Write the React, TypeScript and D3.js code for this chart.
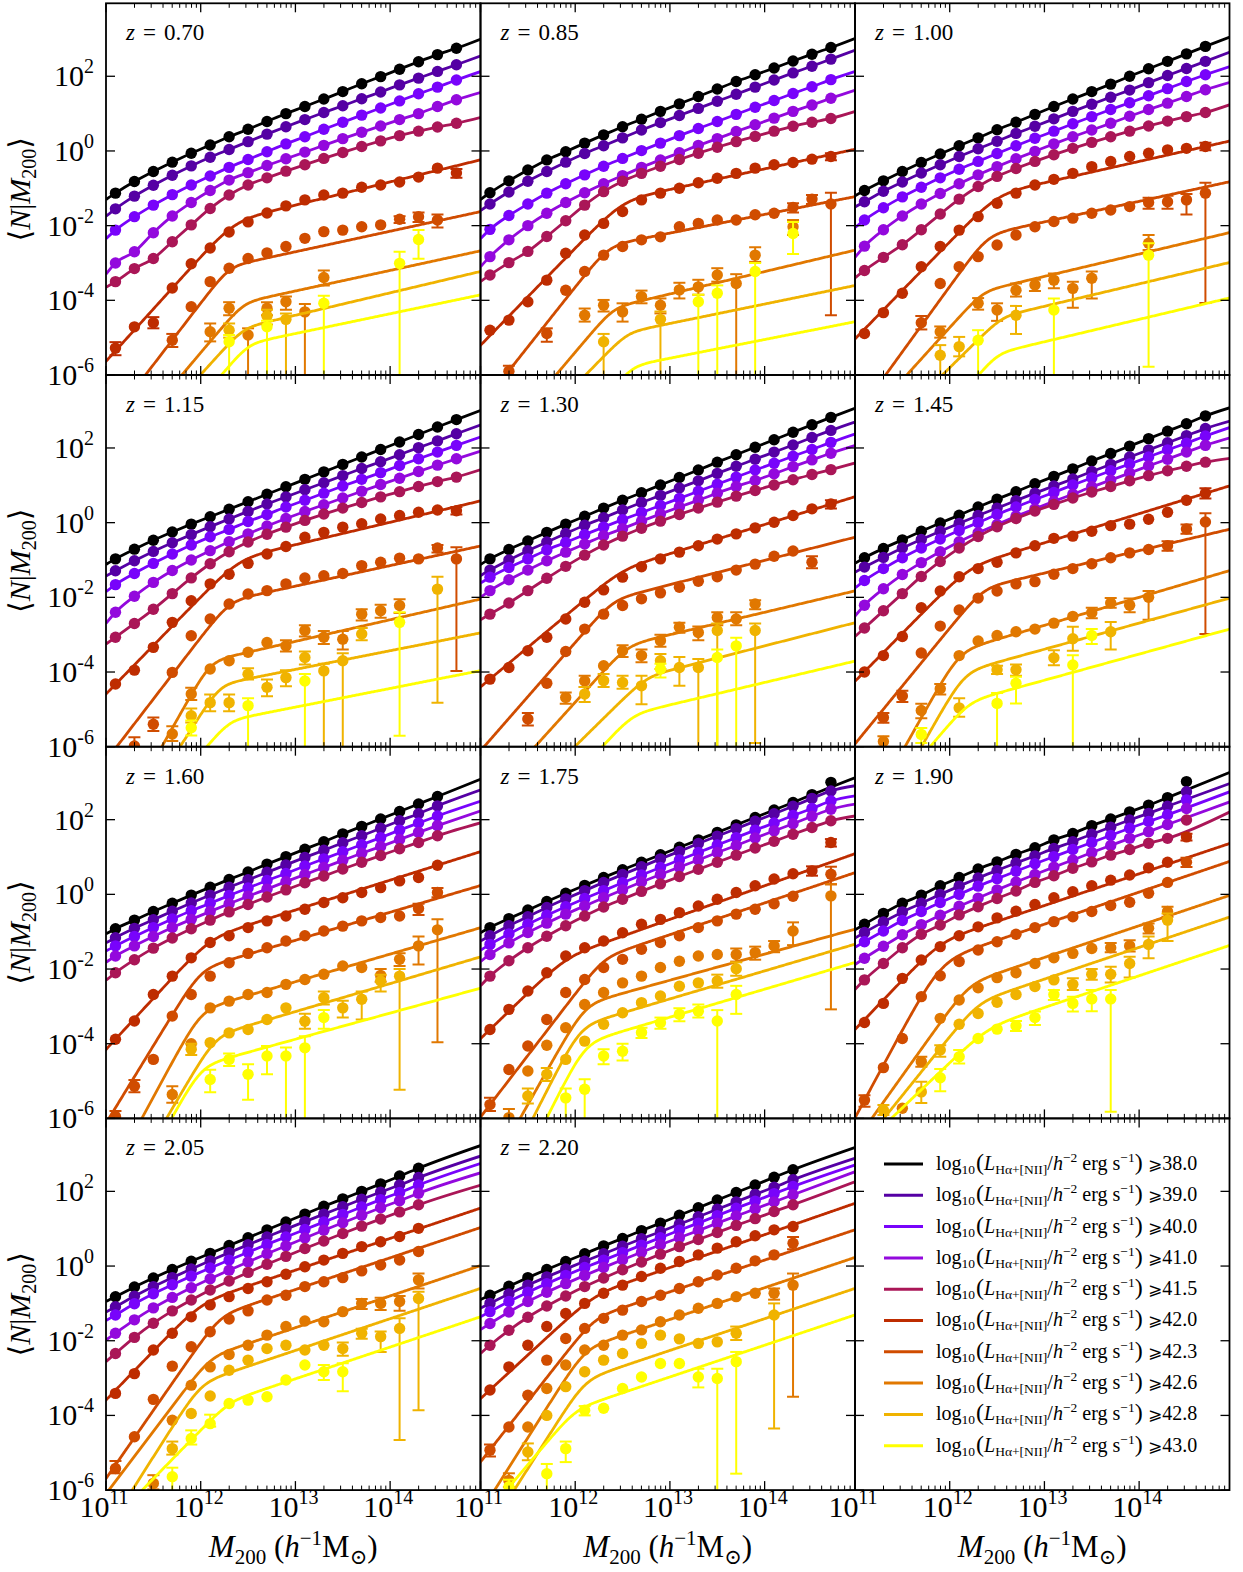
import * as d3 from "d3";

const REDSHIFTS = ["0.70", "0.85", "1.00", "1.15", "1.30", "1.45", "1.60", "1.75", "1.90", "2.05", "2.20"];
const THRESHOLDS = ["38.0", "39.0", "40.0", "41.0", "41.5", "42.0", "42.3", "42.6", "42.8", "43.0"];
// gnuplot colour map sampled at i/9
const COLORS = ["#000000", "#5500a4", "#7803fb", "#9309dd", "#aa1657", "#be2c00", "#d04c00", "#e17800", "#f0b300", "#ffff00"];

// log10 M200 bin centres (h^-1 Msun)
const LOG_M_BINS = [11.1, 11.3, 11.5, 11.7, 11.9, 12.1, 12.3, 12.5, 12.7, 12.9, 13.1, 13.3, 13.5, 13.7, 13.9, 14.1, 14.3, 14.5, 14.7];
// where the curves of the bright samples leave the frame
const LOG_M_EDGES = [11.0, 14.96];
const X_TICK_EXP = [11, 12, 13, 14];
const Y_TICK_EXP = [-6, -4, -2, 0, 2];

// ---- z = 0.70 ----
const Z070_BRIGHT = [
  [-1.13, -0.82, -0.55, -0.3, -0.06, 0.16, 0.38, 0.58, 0.79, 1.0, 1.19, 1.39, 1.59, 1.8, 1.99, 2.19, 2.39, 2.58, 2.75],
  [-1.55, -1.21, -0.92, -0.65, -0.4, -0.17, 0.04, 0.25, 0.45, 0.65, 0.84, 1.03, 1.21, 1.4, 1.58, 1.77, 1.95, 2.13, 2.31],
  [-2.12, -1.76, -1.45, -1.17, -0.91, -0.67, -0.44, -0.23, -0.02, 0.19, 0.38, 0.58, 0.77, 0.96, 1.15, 1.34, 1.53, 1.71, 1.9],
  [-3.0, -2.7, -2.19, -1.74, -1.38, -1.06, -0.78, -0.58, -0.39, -0.21, -0.03, 0.15, 0.33, 0.5, 0.67, 0.84, 1.0, 1.19, 1.37],
  [-3.5, -3.15, -2.88, -2.43, -1.98, -1.54, -1.18, -0.91, -0.72, -0.54, -0.37, -0.2, -0.04, 0.12, 0.27, 0.41, 0.53, 0.64, 0.74],
];
const Z070_EDGES = [[-1.3, 3.0], [-1.75, 2.55], [-2.35, 2.13], [-3.3, 1.57], [-3.65, 0.9]];
const Z070_FAINT = [
  [-5.28, -4.71, -4.6, -3.67, -3.02, -2.6, -2.17, -1.9, -1.66, -1.47, -1.31, -1.18, -1.13, -0.97, -0.91, -0.83, -0.7, -0.46, -0.59],
  [null, null, null, -5.07, -4.17, -3.5, -3.14, -2.88, -2.73, -2.56, -2.34, -2.16, -2.12, -2.03, -1.98, -1.83, -1.76, -1.85, null],
  [null, null, null, null, null, -4.84, -4.21, -4.93, -4.21, -4.04, -4.31, -3.39],
  [null, null, null, null, null, null, -4.8, null, -4.42, -4.51],
  [null, null, null, null, null, null, -5.11, null, -4.71, null, null, -4.08, null, null, null, -3.01, -2.37],
];
const Z070_FITS = [[-0.83, 0.62, 12.35, 2.8, 0.25], [-2.15, 0.55, 12.3, 3.3, 0.15], [-3.2, 0.55, 12.45, 3.0, 0.15], [-3.8, 0.6, 12.45, 2.8, 0.15], [-4.36, 0.53, 12.5, 3.0, 0.15]];
const Z070_ERRS = [
  [5, 0, -5.47, -5.12], [5, 2, -4.75, -4.45], [5, 18, -0.72, -0.48],
  [6, 3, -5.25, -4.9], [6, 15, -1.93, -1.75], [6, 16, -1.9, -1.65], [6, 17, -2.05, -1.7],
  [7, 5, -5.1, -4.62], [7, 6, -4.4, -4.05], [7, 7, -7, -4.75], [7, 8, -4.4, -4.05], [7, 9, -4.25, -3.9], [7, 10, -7, -4.1], [7, 11, -3.6, -3.2],
  [8, 6, -5.0, -4.62], [8, 8, -4.65, -4.25], [8, 9, -7, -4.35],
  [9, 6, -7, -4.93], [9, 8, -7, -4.55], [9, 11, -7, -3.88], [9, 15, -7, -2.7], [9, 16, -2.89, -2.12],
];

// ---- z = 0.85 ----
const Z085_BRIGHT = [
  [-1.12, -0.8, -0.51, -0.24, -0.02, 0.21, 0.43, 0.65, 0.85, 1.06, 1.26, 1.46, 1.66, 1.86, 2.04, 2.22, 2.41, 2.59, 2.77],
  [-1.42, -1.1, -0.81, -0.55, -0.3, -0.07, 0.14, 0.35, 0.56, 0.76, 0.95, 1.14, 1.33, 1.52, 1.71, 1.9, 2.09, 2.27, 2.46],
  [-2.1, -1.73, -1.42, -1.13, -0.88, -0.64, -0.41, -0.2, 0.01, 0.21, 0.41, 0.6, 0.79, 0.98, 1.17, 1.35, 1.54, 1.72, 1.91],
  [-2.83, -2.38, -2.0, -1.67, -1.38, -1.12, -0.88, -0.66, -0.44, -0.24, -0.05, 0.15, 0.33, 0.52, 0.7, 0.88, 1.06, 1.23, 1.41],
  [-3.32, -2.99, -2.69, -2.29, -1.87, -1.45, -1.09, -0.81, -0.6, -0.41, -0.23, -0.06, 0.1, 0.25, 0.39, 0.53, 0.66, 0.77, 0.87],
];
const Z085_EDGES = [[-1.3, 3.02], [-1.6, 2.7], [-2.35, 2.13], [-3.1, 1.63], [-3.5, 1.06]];
const Z085_FAINT = [
  [-4.8, -4.53, -4.04, -3.46, -2.74, -2.25, -1.94, -1.62, -1.31, -1.13, -1.0, -0.85, -0.73, -0.6, -0.46, -0.37, -0.31, -0.22, -0.15],
  [null, -5.9, null, -4.89, -3.73, -3.23, -2.79, -2.56, -2.38, -2.3, -2.03, -1.94, -1.85, -1.85, -1.71, -1.67, -1.51, -1.29, -1.42],
  [null, null, null, null, null, -4.4, -4.13, -4.31, -3.9, -4.13, -3.72, -3.64, -3.32, -3.55, -2.79, null, -2.03],
  [null, null, null, null, null, null, -5.11, null, null, -4.51],
  [null, null, null, null, null, null, null, null, null, null, null, -4.04, -3.81, null, -3.23, null, -2.21],
];
const Z085_FITS = [[-0.48, 0.55, 12.5, 2.6, 0.25], [-1.7, 0.5, 12.35, 3.2, 0.18], [-3.23, 0.6, 12.4, 3.0, 0.15], [-4.1, 0.52, 12.55, 2.6, 0.15], [-5.05, 0.5, 12.6, 3.0, 0.15]];
const Z085_ERRS = [
  [5, 18, -0.25, -0.06],
  [6, 1, -6.1, -5.75], [6, 3, -5.11, -4.75], [6, 16, -1.65, -1.4], [6, 17, -1.42, -1.18], [6, 18, -4.4, -1.12],
  [7, 5, -4.57, -4.22], [7, 6, -4.3, -3.99], [7, 7, -4.57, -4.08], [7, 8, -4.08, -3.74], [7, 9, -4.35, -3.95], [7, 10, -3.95, -3.53], [7, 11, -3.85, -3.45], [7, 12, -3.5, -3.14], [7, 13, -7, -3.3], [7, 14, -2.97, -2.58], [7, 16, -2.25, -1.85],
  [8, 6, -7, -4.9], [8, 9, -7, -4.3],
  [9, 11, -7, -3.85], [9, 12, -7, -3.6], [9, 14, -7, -3.0], [9, 16, -2.76, -1.9],
];

// ---- z = 1.00 ----
const Z100_BRIGHT = [
  [-1.06, -0.8, -0.55, -0.31, -0.08, 0.14, 0.35, 0.57, 0.77, 0.98, 1.19, 1.39, 1.59, 1.79, 2.0, 2.2, 2.4, 2.6, 2.8],
  [-1.36, -1.08, -0.83, -0.59, -0.37, -0.15, 0.06, 0.26, 0.47, 0.66, 0.86, 1.06, 1.25, 1.44, 1.63, 1.83, 2.02, 2.21, 2.4],
  [-1.85, -1.52, -1.23, -0.97, -0.72, -0.49, -0.28, -0.07, 0.14, 0.34, 0.53, 0.73, 0.92, 1.11, 1.29, 1.48, 1.67, 1.86, 2.04],
  [-2.55, -2.11, -1.74, -1.42, -1.14, -0.88, -0.64, -0.42, -0.21, -0.01, 0.19, 0.38, 0.56, 0.74, 0.93, 1.11, 1.28, 1.46, 1.64],
  [-3.2, -2.85, -2.51, -2.11, -1.69, -1.29, -0.95, -0.68, -0.47, -0.28, -0.1, 0.07, 0.23, 0.38, 0.53, 0.67, 0.8, 0.92, 1.03],
];
const Z100_EDGES = [[-1.2, 3.05], [-1.5, 2.65], [-2.05, 2.26], [-2.85, 1.84], [-3.4, 1.24]];
const Z100_FAINT = [
  [-4.89, -4.33, -3.81, -3.1, -2.56, -2.12, -1.76, -1.4, -1.13, -0.91, -0.76, -0.6, -0.42, -0.28, -0.15, -0.06, 0.03, 0.07, 0.12],
  [null, null, null, -4.6, -3.55, -3.1, -2.83, -2.52, -2.25, -2.03, -1.89, -1.8, -1.67, -1.58, -1.49, -1.38, -1.36, -1.31, -1.13],
  [null, null, null, null, -4.84, null, -4.08, -4.26, -3.73, -3.59, -3.46, -3.68, -3.41, null, null, -2.47],
  [null, null, null, null, -5.47, -5.24, null, null, -4.4],
  [null, null, null, null, null, null, -5.07, null, null, null, -4.26, null, null, null, null, -2.79],
];
const Z100_FITS = [[-0.28, 0.57, 12.5, 2.6, 0.25], [-1.35, 0.55, 12.4, 3.5, 0.18], [-2.76, 0.6, 12.35, 2.8, 0.15], [-3.56, 0.6, 12.55, 2.5, 0.15], [-4.51, 0.6, 12.5, 3.0, 0.15]];
const Z100_ERRS = [
  [5, 18, 0.02, 0.22],
  [6, 3, -4.78, -4.42], [6, 15, -1.55, -1.25], [6, 16, -1.55, -1.2], [6, 17, -1.7, -1.15], [6, 18, -4.07, -0.85],
  [7, 4, -5.0, -4.7], [7, 6, -4.25, -3.94], [7, 7, -4.55, -4.08], [7, 8, -3.9, -3.55], [7, 9, -3.75, -3.45], [7, 10, -3.68, -3.28], [7, 11, -4.2, -3.5], [7, 12, -3.95, -3.23], [7, 15, -2.65, -2.25],
  [8, 4, -7, -5.2], [8, 5, -5.5, -4.98], [8, 8, -4.9, -4.15],
  [9, 6, -7, -4.8], [9, 10, -7, -3.95], [9, 15, -5.78, -2.47],
];

// ---- z = 1.15 ----
const Z115_BRIGHT = [
  [-0.97, -0.71, -0.47, -0.25, -0.04, 0.16, 0.36, 0.56, 0.76, 0.96, 1.16, 1.36, 1.56, 1.76, 1.96, 2.16, 2.36, 2.56, 2.76],
  [-1.29, -1.02, -0.77, -0.54, -0.32, -0.11, 0.1, 0.3, 0.5, 0.69, 0.88, 1.07, 1.26, 1.45, 1.63, 1.82, 2.01, 2.19, 2.38],
  [-1.66, -1.36, -1.09, -0.84, -0.6, -0.38, -0.18, 0.03, 0.22, 0.42, 0.6, 0.79, 0.98, 1.16, 1.34, 1.53, 1.71, 1.89, 2.07],
  [-2.4, -1.97, -1.6, -1.28, -1.0, -0.75, -0.51, -0.3, -0.09, 0.11, 0.3, 0.48, 0.66, 0.84, 1.02, 1.19, 1.37, 1.54, 1.71],
  [-3.07, -2.7, -2.32, -1.9, -1.48, -1.1, -0.78, -0.52, -0.31, -0.12, 0.06, 0.23, 0.39, 0.54, 0.69, 0.83, 0.97, 1.1, 1.22],
];
const Z115_EDGES = [[-1.12, 3.01], [-1.43, 2.62], [-1.85, 2.3], [-2.7, 1.92], [-3.25, 1.42]];
const Z115_FAINT = [
  [-4.32, -3.95, -3.34, -2.67, -2.09, -1.64, -1.38, -1.09, -0.84, -0.64, -0.39, -0.26, -0.12, -0.03, 0.1, 0.19, 0.28, 0.34, 0.32],
  [null, -5.98, -5.4, -4.01, -3.03, -2.58, -2.18, -1.91, -1.82, -1.64, -1.48, -1.42, -1.36, -1.15, -1.06, -0.95, -0.97, -0.68, -0.97],
  [null, null, null, -5.66, -4.59, -3.92, -3.7, -3.47, -3.21, -3.3, -2.89, -3.07, -3.12, -2.45, -2.36, -2.22],
  [null, null, null, null, -5.17, -4.82, -4.82, -4.06, -4.41, -4.15, -3.61, -3.97, -3.7, -2.98, null, null, null, -1.78],
  [null, null, null, null, -5.49, null, null, -4.9, null, null, -4.24, null, null, null, null, -2.67],
];
const Z115_FITS = [[0.01, 0.6, 12.4, 2.6, 0.25], [-1.15, 0.55, 12.3, 3.3, 0.18], [-2.6, 0.58, 12.1, 4.5, 0.15], [-3.43, 0.5, 12.2, 4.0, 0.15], [-4.44, 0.5, 12.3, 3.0, 0.15]];
const Z115_ERRS = [
  [5, 18, 0.22, 0.42],
  [6, 1, -7, -5.75], [6, 2, -5.58, -5.22], [6, 17, -0.8, -0.6], [6, 18, -3.97, -0.66],
  [7, 3, -5.85, -5.45], [7, 4, -4.75, -4.42], [7, 9, -3.45, -3.15], [7, 10, -3.05, -2.75], [7, 11, -3.25, -2.9], [7, 12, -3.4, -2.9], [7, 13, -2.62, -2.32], [7, 14, -2.55, -2.2], [7, 15, -2.42, -2.05],
  [8, 4, -5.35, -4.98], [8, 5, -5.05, -4.6], [8, 6, -5.05, -4.6], [8, 7, -4.2, -3.9], [8, 8, -4.65, -4.2], [8, 9, -4.38, -3.95], [8, 10, -3.8, -3.45], [8, 11, -7, -3.78], [8, 12, -7, -3.5], [8, 13, -3.15, -2.82], [8, 17, -4.82, -1.45],
  [9, 4, -5.7, -5.3], [9, 7, -7, -4.7], [9, 10, -7, -4.05], [9, 15, -5.71, -2.4],
];

// ---- z = 1.30 ----
const Z130_BRIGHT = [
  [-0.97, -0.72, -0.49, -0.26, -0.04, 0.17, 0.39, 0.6, 0.8, 1.01, 1.21, 1.41, 1.62, 1.82, 2.02, 2.22, 2.42, 2.62, 2.82],
  [-1.27, -1.0, -0.75, -0.52, -0.29, -0.07, 0.13, 0.34, 0.54, 0.73, 0.93, 1.12, 1.32, 1.51, 1.7, 1.89, 2.08, 2.28, 2.47],
  [-1.46, -1.2, -0.97, -0.73, -0.53, -0.32, -0.12, 0.08, 0.27, 0.46, 0.65, 0.84, 1.03, 1.22, 1.41, 1.59, 1.78, 1.96, 2.15],
  [-1.82, -1.53, -1.27, -1.02, -0.79, -0.57, -0.35, -0.16, 0.04, 0.23, 0.42, 0.6, 0.79, 0.97, 1.13, 1.31, 1.5, 1.68, 1.86],
  [-2.45, -2.15, -1.82, -1.49, -1.17, -0.87, -0.6, -0.36, -0.15, 0.04, 0.22, 0.39, 0.55, 0.71, 0.86, 1.01, 1.15, 1.29, 1.42],
];
const Z130_EDGES = [[-1.12, 3.07], [-1.42, 2.7], [-1.62, 2.38], [-2.0, 2.07], [-2.6, 1.6]];
const Z130_FAINT = [
  [-4.19, -3.88, -3.43, -3.07, -2.58, -2.13, -1.8, -1.46, -1.18, -0.97, -0.79, -0.62, -0.44, -0.3, -0.14, 0.01, 0.19, 0.37, 0.5],
  [null, null, -5.26, -4.3, -3.45, -2.85, -2.45, -2.22, -2.04, -1.88, -1.73, -1.57, -1.45, -1.27, -1.11, -0.9, -0.76, -1.06],
  [null, null, null, null, -4.68, -4.24, -3.83, -3.43, -3.56, -3.16, -2.8, -2.94, -2.54, -2.58, -2.18],
  [null, null, null, null, null, -4.59, -4.23, -4.28, -4.37, -3.7, -3.88, -3.88, -2.89, null, -2.89],
  [null, null, null, null, null, null, null, null, null, -3.92, null, null, -3.61, -3.3],
];
const Z130_FITS = [[-0.05, 0.78, 12.5, 2.12, 0.25], [-1.01, 0.65, 12.4, 2.9, 0.18], [-2.4, 0.6, 12.55, 2.8, 0.18], [-3.3, 0.65, 12.75, 2.5, 0.18], [-4.28, 0.6, 12.6, 2.8, 0.18]];
const Z130_ERRS = [
  [5, 18, 0.38, 0.6],
  [6, 2, -5.43, -5.1], [6, 17, -1.22, -0.9],
  [7, 4, -4.85, -4.55], [7, 5, -4.4, -4.1], [7, 7, -3.6, -3.28], [7, 8, -3.74, -3.4], [7, 9, -3.32, -3.0], [7, 10, -2.95, -2.68], [7, 11, -3.15, -2.78], [7, 12, -2.75, -2.4], [7, 13, -2.75, -2.4], [7, 14, -2.32, -2.08],
  [8, 5, -4.8, -4.4], [8, 6, -4.4, -4.05], [8, 7, -4.45, -4.1], [8, 8, -4.86, -4.1], [8, 9, -3.92, -3.52], [8, 10, -4.37, -3.6], [8, 11, -7, -3.65], [8, 12, -7, -2.7], [8, 14, -5.9, -2.7],
  [9, 9, -4.15, -3.78], [9, 12, -7, -3.4], [9, 13, -7, -3.08],
];

// ---- z = 1.45 ----
const Z145_BRIGHT = [
  [-0.94, -0.69, -0.46, -0.23, -0.01, 0.2, 0.42, 0.63, 0.83, 1.04, 1.24, 1.44, 1.65, 1.85, 2.05, 2.25, 2.45, 2.65, 2.86],
  [-1.19, -0.93, -0.68, -0.45, -0.23, -0.02, 0.19, 0.39, 0.59, 0.79, 0.98, 1.17, 1.37, 1.56, 1.76, 1.95, 2.14, 2.33, 2.52],
  [-1.55, -1.23, -0.94, -0.68, -0.44, -0.21, 0.0, 0.22, 0.42, 0.62, 0.81, 1.01, 1.2, 1.39, 1.57, 1.76, 1.95, 2.13, 2.32],
  [-2.21, -1.77, -1.39, -1.07, -0.78, -0.51, -0.27, -0.05, 0.17, 0.37, 0.57, 0.76, 0.96, 1.14, 1.33, 1.52, 1.7, 1.89, 2.07],
  [-2.82, -2.36, -1.9, -1.44, -1.04, -0.68, -0.37, -0.11, 0.11, 0.31, 0.49, 0.66, 0.82, 0.97, 1.12, 1.26, 1.39, 1.51, 1.62],
];
const Z145_EDGES = [[-1.09, 3.08], [-1.33, 2.72], [-1.75, 2.55], [-2.5, 2.27], [-3.05, 1.72]];
const Z145_FAINT = [
  [-4.0, -3.56, -3.05, -2.28, -1.83, -1.45, -1.23, -1.06, -0.81, -0.62, -0.42, -0.36, -0.23, -0.08, -0.04, 0.09, 0.28, 0.6, 0.79],
  [null, -5.22, -4.64, -3.49, -2.77, -2.34, -2.02, -1.83, -1.64, -1.58, -1.38, -1.23, -1.1, -0.94, -0.81, -0.72, -0.62, -0.17, 0.02],
  [null, -5.86, null, -5.03, -4.45, -3.56, -3.17, -3.02, -2.92, -2.85, -2.69, -2.51, -2.41, -2.15, -2.21, -2.0],
  [null, null, null, null, null, -4.96, null, -3.94, -3.94, null, -3.62, -3.11, null, -2.92],
  [null, null, null, -5.67, null, null, null, -4.84, -4.3, null, null, -3.81, -3.02],
];
const Z145_FITS = [[0.24, 0.78, 12.2, 2.57, 0.25], [-0.75, 0.6, 12.35, 3.1, 0.18], [-2.0, 0.75, 12.1, 4.5, 0.18], [-2.69, 0.7, 12.15, 4.5, 0.18], [-3.52, 0.7, 12.2, 3.0, 0.18]];
const Z145_ERRS = [
  [5, 18, 0.65, 0.92],
  [6, 1, -5.36, -5.1], [6, 2, -4.8, -4.5], [6, 16, -0.75, -0.5], [6, 17, -0.3, -0.05], [6, 18, -2.98, 0.25],
  [7, 1, -6.0, -5.72], [7, 3, -5.24, -4.85], [7, 4, -4.6, -4.32], [7, 12, -2.56, -2.28], [7, 13, -2.28, -2.02], [7, 14, -2.4, -2.03], [7, 15, -2.6, -1.83],
  [8, 5, -5.2, -4.7], [8, 7, -4.05, -3.83], [8, 8, -4.1, -3.8], [8, 10, -3.82, -3.42], [8, 11, -3.43, -2.79], [8, 13, -3.4, -2.66],
  [9, 3, -5.9, -5.5], [9, 7, -7, -4.56], [9, 8, -4.84, -4.13], [9, 11, -7, -3.55], [9, 12, -3.25, -2.85],
];

// ---- z = 1.60 ----
const Z160_BRIGHT = [
  [-0.92, -0.69, -0.46, -0.24, -0.02, 0.19, 0.4, 0.6, 0.81, 1.01, 1.21, 1.41, 1.62, 1.82, 2.02, 2.22, 2.42, 2.62],
  [-1.16, -0.91, -0.68, -0.45, -0.23, -0.02, 0.19, 0.39, 0.59, 0.79, 0.99, 1.18, 1.38, 1.57, 1.77, 1.97, 2.16, 2.37],
  [-1.38, -1.13, -0.89, -0.66, -0.44, -0.24, -0.03, 0.17, 0.37, 0.56, 0.76, 0.95, 1.14, 1.33, 1.52, 1.72, 1.91, 2.1],
  [-1.65, -1.38, -1.13, -0.89, -0.67, -0.46, -0.25, -0.05, 0.14, 0.34, 0.53, 0.72, 0.91, 1.1, 1.28, 1.47, 1.66, 1.84],
  [-2.1, -1.75, -1.44, -1.17, -0.92, -0.69, -0.47, -0.27, -0.07, 0.12, 0.31, 0.49, 0.68, 0.86, 1.04, 1.22, 1.39, 1.57],
];
const Z160_EDGES = [[-1.06, 3.09], [-1.3, 2.8], [-1.52, 2.5], [-1.82, 2.24], [-2.3, 1.92]];
const Z160_FAINT = [
  [-3.88, -3.39, -2.68, -2.19, -1.7, -1.29, -1.11, -0.89, -0.71, -0.58, -0.4, -0.22, -0.09, 0.05, 0.18, 0.36, 0.45, 0.78],
  [-5.95, -5.14, -4.42, -3.26, -2.68, -2.19, -1.83, -1.58, -1.43, -1.25, -1.11, -0.98, -0.85, -0.71, -0.62, -0.58, -0.38, 0.05],
  [null, null, null, -5.36, -4.0, -3.04, -2.86, -2.68, -2.63, -2.41, -2.28, -2.14, -1.92, -1.96, -2.17, -1.74, -1.38, -0.95],
  [null, null, null, null, -4.15, -3.97, -3.71, -3.62, -3.35, -3.04, -3.4, -2.77, -3.04, -2.81, -2.32, -2.19],
  [null, null, null, null, null, -4.96, -4.42, -4.82, -4.33, -4.33, -4.11, -3.3],
];
const Z160_FITS = [[0.38, 0.8, 12.1, 2.74, 0.25], [-0.48, 0.75, 12.0, 4.15, 0.18], [-1.6, 0.74, 12.0, 4.7, 0.18], [-2.39, 0.75, 12.15, 4.35, 0.18], [-3.18, 0.7, 12.0, 4.6, 0.18]];
const Z160_ERRS = [
  [6, 0, -7, -5.8], [6, 1, -5.3, -4.97], [6, 16, -0.55, -0.25], [6, 17, -0.08, 0.17],
  [7, 3, -5.58, -5.14], [7, 14, -2.34, -2.0], [7, 15, -1.92, -1.58], [7, 16, -1.88, -1.13], [7, 17, -3.96, -0.67],
  [8, 4, -4.3, -4.0], [8, 10, -3.6, -3.2], [8, 11, -2.95, -2.6], [8, 12, -3.3, -2.85], [8, 13, -3.35, -2.6], [8, 14, -2.6, -2.15], [8, 15, -5.23, -2.0],
  [9, 5, -5.3, -4.7], [9, 6, -4.6, -4.26], [9, 7, -5.5, -4.55], [9, 8, -4.82, -4.06], [9, 9, -7, -4.1], [9, 10, -7, -3.8], [9, 11, -3.6, -3.1],
];

// ---- z = 1.75 ----
const Z175_BRIGHT = [
  [-0.89, -0.65, -0.42, -0.19, 0.03, 0.24, 0.45, 0.66, 0.86, 1.06, 1.26, 1.46, 1.66, 1.86, 2.06, 2.26, 2.46, 2.67, 3.0],
  [-1.11, -0.84, -0.6, -0.35, -0.12, 0.1, 0.32, 0.53, 0.74, 0.95, 1.15, 1.36, 1.56, 1.76, 1.96, 2.16, 2.36, 2.57, 2.77],
  [-1.34, -1.06, -0.8, -0.56, -0.33, -0.11, 0.1, 0.31, 0.52, 0.72, 0.92, 1.12, 1.32, 1.52, 1.72, 1.91, 2.11, 2.3, 2.5],
  [-1.61, -1.3, -1.02, -0.77, -0.53, -0.31, -0.09, 0.12, 0.33, 0.53, 0.73, 0.92, 1.12, 1.31, 1.51, 1.7, 1.89, 2.09, 2.28],
  [-2.19, -1.78, -1.43, -1.12, -0.84, -0.58, -0.34, -0.13, 0.08, 0.28, 0.48, 0.67, 0.86, 1.05, 1.24, 1.42, 1.61, 1.79, 1.97],
];
const Z175_EDGES = [[-1.03, 3.13], [-1.25, 2.91], [-1.5, 2.64], [-1.8, 2.42], [-2.45, 2.1]];
const Z175_FAINT = [
  [-3.62, -3.08, -2.59, -2.1, -1.65, -1.43, -1.25, -1.03, -0.8, -0.67, -0.49, -0.31, -0.13, 0.05, 0.23, 0.41, 0.55, 0.63, 1.39],
  [-5.63, -4.69, -4.06, -3.35, -2.63, -2.28, -1.96, -1.74, -1.47, -1.29, -1.11, -0.89, -0.71, -0.53, -0.4, -0.25, -0.05, null, 0.54],
  [null, -5.98, -4.73, -4.04, -3.57, -2.95, -2.63, -2.37, -2.19, -1.96, -1.79, -1.65, -1.61, -1.61, -1.56, -1.38, -0.98, null, -0.04],
  [null, null, -5.4, -4.82, -4.42, -3.93, -3.48, -3.17, -2.9, -2.72, -2.46, -2.37, -2.32, -1.99],
  [null, null, null, null, -5.45, -5.22, -4.33, -4.2, -3.7, -3.44, -3.21, -3.13, -3.39, -2.68],
];
const Z175_FITS = [[0.23, 0.9, 11.9, 2.45, 0.25], [-0.23, 0.85, 12.3, 3.3, 0.18], [-1.6, 0.7, 12.1, 4.5, 0.18], [-2.05, 0.75, 12.05, 5.0, 0.18], [-2.54, 0.75, 12.1, 5.05, 0.18]];
const Z175_ERRS = [
  [5, 17, 0.5, 0.75], [5, 18, 1.28, 1.48],
  [6, 0, -5.8, -5.45], [6, 18, 0.27, 0.74],
  [7, 1, -7, -5.75], [7, 13, -1.8, -1.45], [7, 14, -1.75, -1.4], [7, 15, -1.55, -1.25], [7, 16, -1.36, -0.75], [7, 18, -3.08, 0.27],
  [8, 2, -5.6, -5.2], [8, 3, -5.0, -4.65], [8, 12, -2.5, -2.15], [8, 13, -2.18, -1.82],
  [9, 4, -7, -5.2], [9, 5, -7, -4.95], [9, 6, -4.55, -4.15], [9, 7, -4.45, -4.0], [9, 8, -3.85, -3.57], [9, 9, -3.6, -3.3], [9, 10, -3.4, -3.05], [9, 11, -3.3, -2.95], [9, 12, -7, -3.1], [9, 13, -3.2, -2.45],
];

// ---- z = 1.90 ----
const Z190_BRIGHT = [
  [-0.8, -0.51, -0.24, -0.02, 0.23, 0.45, 0.68, 0.87, 1.07, 1.25, 1.46, 1.63, 1.84, 2.02, 2.21, 2.39, 2.59, 3.02],
  [-1.02, -0.74, -0.47, -0.24, 0.0, 0.22, 0.44, 0.64, 0.84, 1.03, 1.23, 1.41, 1.61, 1.8, 1.99, 2.17, 2.36, 2.75],
  [-1.27, -0.98, -0.7, -0.46, -0.22, 0.0, 0.22, 0.42, 0.62, 0.82, 1.01, 1.2, 1.39, 1.58, 1.77, 1.95, 2.13, 2.53],
  [-1.71, -1.39, -1.08, -0.81, -0.56, -0.32, -0.1, 0.12, 0.33, 0.53, 0.73, 0.92, 1.12, 1.31, 1.5, 1.68, 1.87, 2.3],
  [-2.29, -1.85, -1.43, -1.07, -0.82, -0.55, -0.33, -0.11, 0.09, 0.32, 0.5, 0.7, 0.87, 1.05, 1.2, 1.37, 1.5, 1.99],
];
const Z190_EDGES = [[-0.95, 3.27], [-1.17, 2.97], [-1.42, 2.75], [-1.88, 2.48], [-2.55, 2.21]];
const Z190_FAINT = [
  [-3.43, -2.92, -2.25, -1.76, -1.4, -1.11, -0.87, -0.63, -0.45, -0.27, -0.09, 0.07, 0.23, 0.38, 0.52, 0.71, 0.86, 1.54],
  [-5.51, -4.64, -3.86, -2.74, -2.18, -1.8, -1.49, -1.27, -1.07, -0.89, -0.73, -0.6, -0.46, -0.3, -0.21, 0.03, 0.32, 0.86],
  [null, null, -5.73, -4.48, -3.32, -2.83, -2.5, -2.23, -2.1, -1.85, -1.7, -1.58, -1.45, -1.43, -1.38, -0.91, -0.46],
  [null, -5.78, null, -5.29, -4.17, -3.48, -3.19, -2.89, -2.68, -2.47, -2.29, -2.41, -2.14, -2.14, -1.85, -1.34, -0.69],
  [null, null, null, null, -4.91, -4.35, -3.86, -3.61, -3.52, -3.3, -2.68, -2.92, -2.8, -2.8],
];
const Z190_FITS = [[0.55, 0.85, 11.9, 2.65, 0.25], [0.06, 0.86, 11.9, 4.71, 0.25], [-0.84, 0.85, 12.2, 3.55, 0.2], [-1.42, 0.85, 12.3, 3.15, 0.2], [-2.18, 0.85, 12.4, 2.42, 0.25]];
const Z190_ERRS = [
  [5, 17, 1.44, 1.62],
  [6, 0, -5.69, -5.38], [6, 17, 0.73, 0.98],
  [7, 3, -4.62, -4.35], [7, 13, -1.55, -1.3], [7, 14, -1.53, -1.23], [7, 15, -1.05, -0.78], [7, 16, -0.6, -0.33],
  [8, 1, -5.91, -5.64], [8, 3, -5.59, -5.02], [8, 4, -4.35, -4.04], [8, 11, -2.56, -2.25], [8, 12, -2.29, -2.0], [8, 13, -2.36, -1.94], [8, 14, -2.23, -1.67], [8, 15, -1.71, -1.13], [8, 16, -1.25, -0.51],
  [9, 4, -5.27, -4.68], [9, 5, -4.53, -4.17], [9, 8, -3.66, -3.39], [9, 9, -3.5, -3.14], [9, 10, -2.83, -2.56], [9, 11, -3.14, -2.74], [9, 12, -3.13, -2.56], [9, 13, -5.82, -2.56],
];

// ---- z = 2.05 ----
const Z205_BRIGHT = [
  [-0.82, -0.56, -0.32, -0.09, 0.13, 0.34, 0.55, 0.76, 0.97, 1.18, 1.39, 1.6, 1.8, 2.0, 2.2, 2.41, 2.62],
  [-1.09, -0.81, -0.55, -0.31, -0.08, 0.14, 0.36, 0.57, 0.78, 0.99, 1.19, 1.39, 1.59, 1.79, 1.98, 2.17, 2.37],
  [-1.31, -1.01, -0.74, -0.5, -0.27, -0.05, 0.16, 0.37, 0.58, 0.78, 0.98, 1.18, 1.38, 1.58, 1.78, 1.97, 2.17],
  [-1.8, -1.44, -1.12, -0.84, -0.58, -0.34, -0.11, 0.11, 0.33, 0.54, 0.75, 0.96, 1.16, 1.36, 1.56, 1.75, 1.95],
  [-2.34, -1.91, -1.53, -1.2, -0.91, -0.64, -0.4, -0.17, 0.05, 0.26, 0.47, 0.67, 0.87, 1.07, 1.26, 1.45, 1.64],
];
const Z205_EDGES = [[-0.95, 3.23], [-1.23, 2.95], [-1.46, 2.75], [-1.98, 2.5], [-2.56, 2.17]];
const Z205_FAINT = [
  [-3.41, -2.88, -2.25, -1.8, -1.36, -1.04, -0.82, -0.6, -0.42, -0.22, -0.02, 0.16, 0.34, 0.52, 0.65, 0.79, 1.01],
  [-5.42, -4.57, -3.57, -2.68, -2.16, -1.76, -1.42, -1.2, -0.91, -0.78, -0.55, -0.42, -0.31, -0.13, 0.03, 0.16, 0.39],
  [null, null, -5.82, -4.13, -3.19, -2.7, -2.37, -2.12, -1.85, -1.62, -1.47, -1.49, -1.22, -1.0, -1.0, -0.95, -0.37],
  [null, null, null, -4.89, -3.95, -3.48, -2.79, -2.52, -2.21, -2.12, -2.25, -2.12, -2.21, -1.8, -1.89, -1.67, -0.87],
  [null, null, null, -5.64, -4.62, -4.22, -3.68, -3.59, -3.5, -3.05, -2.65, -2.83, -2.83],
];
const Z205_FITS = [[0.74, 0.85, 12.0, 2.63, 0.25], [0.22, 0.85, 12.2, 3.65, 0.18], [-0.8, 0.85, 12.1, 3.35, 0.18], [-1.41, 0.85, 12.0, 4.0, 0.18], [-2.17, 0.85, 12.3, 2.6, 0.18]];
const Z205_ERRS = [
  [6, 0, -5.55, -5.22],
  [7, 2, -5.98, -5.6], [7, 13, -1.15, -0.88], [7, 14, -1.18, -0.85], [7, 15, -1.2, -0.8], [7, 16, -0.6, -0.2],
  [8, 3, -5.05, -4.7], [8, 12, -2.4, -2.05], [8, 13, -1.95, -1.68], [8, 14, -2.3, -1.75], [8, 15, -4.66, -1.4], [8, 16, -3.86, -0.69],
  [9, 3, -7, -5.4], [9, 4, -4.78, -4.4], [9, 5, -4.3, -3.98], [9, 11, -3.05, -2.65], [9, 12, -3.35, -2.6],
];

// ---- z = 2.20 ----
const Z220_BRIGHT = [
  [-0.78, -0.54, -0.31, -0.09, 0.12, 0.33, 0.54, 0.74, 0.95, 1.15, 1.36, 1.56, 1.77, 1.97, 2.17, 2.38, 2.58],
  [-1.0, -0.75, -0.51, -0.29, -0.08, 0.13, 0.33, 0.53, 0.73, 0.92, 1.12, 1.32, 1.52, 1.72, 1.92, 2.11, 2.31],
  [-1.22, -0.95, -0.7, -0.47, -0.25, -0.04, 0.16, 0.36, 0.56, 0.76, 0.96, 1.15, 1.35, 1.55, 1.74, 1.94, 2.13],
  [-1.54, -1.23, -0.95, -0.7, -0.47, -0.25, -0.04, 0.17, 0.37, 0.57, 0.76, 0.95, 1.15, 1.34, 1.53, 1.72, 1.91],
  [-2.12, -1.72, -1.37, -1.07, -0.8, -0.55, -0.32, -0.1, 0.11, 0.32, 0.52, 0.71, 0.9, 1.09, 1.27, 1.46, 1.64],
];
const Z220_EDGES = [[-0.9, 3.18], [-1.13, 2.89], [-1.36, 2.71], [-1.7, 2.53], [-2.34, 2.26]];
const Z220_FAINT = [
  [-3.32, -2.7, -2.12, -1.62, -1.27, -1.0, -0.73, -0.51, -0.28, -0.06, 0.12, 0.3, 0.48, 0.65, 0.81, 0.97, 1.06],
  [-4.93, -4.31, -3.46, -2.52, -1.94, -1.67, -1.4, -1.18, -0.95, -0.78, -0.6, -0.42, -0.24, -0.06, 0.14, 0.3, 0.61],
  [null, -5.74, -4.31, -3.28, -2.65, -2.25, -2.12, -1.85, -1.71, -1.49, -1.31, -1.13, -1.0, -0.82, -0.73, -0.73, -0.51],
  [null, null, -4.98, -4.0, -3.23, -2.83, -2.52, -2.34, -2.07, -1.85, -1.95, -2.07, -2.03, -1.8, null, -1.31],
  [null, -5.91, null, -5.56, -4.89, -3.86, -3.81, -3.28, -2.97, -2.61, -2.61, -2.97, -3.01, -2.56],
];
const Z220_FITS = [[0.84, 0.88, 12.2, 2.34, 0.25], [0.16, 0.85, 12.2, 3.23, 0.18], [-0.58, 0.85, 12.1, 4.0, 0.18], [-1.41, 0.85, 12.1, 4.0, 0.18], [-2.12, 0.85, 12.0, 3.0, 0.18]];
const Z220_ERRS = [
  [6, 0, -5.1, -4.78], [6, 16, 0.45, 0.78],
  [7, 1, -5.92, -5.55], [7, 15, -0.9, -0.6], [7, 16, -3.5, -0.2],
  [8, 2, -5.2, -4.75], [8, 13, -1.98, -1.62], [8, 15, -4.35, -1.0],
  [9, 1, -7, -5.72], [9, 3, -7, -5.3], [9, 4, -5.25, -4.7], [9, 5, -4.0, -3.75], [9, 11, -3.25, -2.75], [9, 12, -7, -2.75], [9, 13, -5.56, -2.3],
];

// bright samples whose last point sits off the fitted curve
const Z175_OFF_CURVE = [0];
const Z190_OFF_CURVE = [0, 1, 2, 3, 4];

const PANELS = [
  { bright: Z070_BRIGHT, edges: Z070_EDGES, faint: Z070_FAINT, fits: Z070_FITS, errs: Z070_ERRS, off: [] as number[] },
  { bright: Z085_BRIGHT, edges: Z085_EDGES, faint: Z085_FAINT, fits: Z085_FITS, errs: Z085_ERRS, off: [] },
  { bright: Z100_BRIGHT, edges: Z100_EDGES, faint: Z100_FAINT, fits: Z100_FITS, errs: Z100_ERRS, off: [] },
  { bright: Z115_BRIGHT, edges: Z115_EDGES, faint: Z115_FAINT, fits: Z115_FITS, errs: Z115_ERRS, off: [] },
  { bright: Z130_BRIGHT, edges: Z130_EDGES, faint: Z130_FAINT, fits: Z130_FITS, errs: Z130_ERRS, off: [] },
  { bright: Z145_BRIGHT, edges: Z145_EDGES, faint: Z145_FAINT, fits: Z145_FITS, errs: Z145_ERRS, off: [] },
  { bright: Z160_BRIGHT, edges: Z160_EDGES, faint: Z160_FAINT, fits: Z160_FITS, errs: Z160_ERRS, off: [] },
  { bright: Z175_BRIGHT, edges: Z175_EDGES, faint: Z175_FAINT, fits: Z175_FITS, errs: Z175_ERRS, off: Z175_OFF_CURVE },
  { bright: Z190_BRIGHT, edges: Z190_EDGES, faint: Z190_FAINT, fits: Z190_FITS, errs: Z190_ERRS, off: Z190_OFF_CURVE },
  { bright: Z205_BRIGHT, edges: Z205_EDGES, faint: Z205_FAINT, fits: Z205_FITS, errs: Z205_ERRS, off: [] },
  { bright: Z220_BRIGHT, edges: Z220_EDGES, faint: Z220_FAINT, fits: Z220_FITS, errs: Z220_ERRS, off: [] },
];

const WIDTH = 1243;
const HEIGHT = 1572;
const LEFT = 106;
const TOP = 3.3;
const PW = 374.5;
const PH = 371.7;
const FONT = "Liberation Serif, DejaVu Serif, serif";

const x = d3.scaleLog().domain([1e11, 9e14]).range([0, PW]);
const y = d3.scaleLog().domain([1e-6, 9e3]).range([PH, 0]);
const px = (logM: number) => x(Math.pow(10, logM));
const py = (logN: number) => y(Math.pow(10, Math.max(-8, logN)));

// smoothed broken power law used for the fitted occupation curves
const occupation = ([y14, a2, xc, a1, w]: number[], m: number) =>
  y14 + a2 * (m - 14) - (a1 - a2) * w * Math.log10(1 + Math.pow(10, (xc - m) / w));

const curve = d3
  .line<[number, number]>()
  .x((d) => px(d[0]))
  .y((d) => py(d[1]));

const fitPath = (fit: number[]) =>
  curve.curve(d3.curveLinear)(d3.range(10.98, 14.98, 0.01).map((m) => [m, occupation(fit, m)] as [number, number]));

const brightPath = (vals: number[], edge: number[], dropLast: boolean) =>
  curve.curve(d3.curveMonotoneX)([
    [LOG_M_EDGES[0], edge[0]],
    ...(dropLast ? vals.slice(0, -1) : vals).map((v, k) => [LOG_M_BINS[k], v] as [number, number]),
    [LOG_M_EDGES[1], edge[1]],
  ] as [number, number][]);

const xMinor = d3
  .range(11, 15)
  .flatMap((d) => d3.range(2, 10).map((k) => k * Math.pow(10, d)))
  .filter((v) => v <= 9e14);

function Frame({ idx }: { idx: number }) {
  return (
    <g>
      <rect width={PW} height={PH} fill="none" stroke="#000" strokeWidth={1.8} />
      {X_TICK_EXP.map((e) => {
        const tx = x(Math.pow(10, e));
        return (
          <g key={e} stroke="#000" strokeWidth={1.3}>
            <line x1={tx} x2={tx} y1={PH} y2={PH - 9} />
            <line x1={tx} x2={tx} y1={0} y2={9} />
          </g>
        );
      })}
      {xMinor.map((v) => (
        <g key={v} stroke="#000" strokeWidth={1}>
          <line x1={x(v)} x2={x(v)} y1={PH} y2={PH - 4.5} />
          <line x1={x(v)} x2={x(v)} y1={0} y2={4.5} />
        </g>
      ))}
      {Y_TICK_EXP.map((e) => {
        const ty = y(Math.pow(10, e));
        return (
          <g key={e} stroke="#000" strokeWidth={1.3}>
            <line x1={0} x2={9} y1={ty} y2={ty} />
            <line x1={PW} x2={PW - 9} y1={ty} y2={ty} />
          </g>
        );
      })}
      {idx % 3 === 0 &&
        Y_TICK_EXP.map((e) => (
          <text key={e} x={-12} y={y(Math.pow(10, e)) + 10} textAnchor="end" fontSize={30}>
            10<tspan fontSize={20} dy={-13}>{e}</tspan>
          </text>
        ))}
      {idx >= 9 &&
        X_TICK_EXP.map((e) => (
          <text key={e} x={x(Math.pow(10, e)) - 2} y={PH + 27} textAnchor="middle" fontSize={30}>
            10<tspan fontSize={20} dy={-13}>{e}</tspan>
          </text>
        ))}
    </g>
  );
}

function DataPanel({ idx }: { idx: number }) {
  const p = PANELS[idx];
  return (
    <g>
      <clipPath id={`clip-${idx}`}>
        <rect width={PW} height={PH} />
      </clipPath>
      <g clipPath={`url(#clip-${idx})`}>
        {THRESHOLDS.map((_, s) => {
          const color = COLORS[s];
          const bright = s < 5;
          const vals = (bright ? p.bright[s] : p.faint[s - 5]) as (number | null)[];
          const d = bright
            ? brightPath(p.bright[s], p.edges[s], p.off.includes(s))
            : fitPath(p.fits[s - 5]);
          return (
            <g key={s}>
              <path d={d || ""} fill="none" stroke={color} strokeWidth={2.8} />
              {p.errs
                .filter((e) => e[0] === s)
                .map(([, k, lo, hi]) => {
                  const cx = px(LOG_M_BINS[k]);
                  return (
                    <g key={k} stroke={color} strokeWidth={2}>
                      <line x1={cx} x2={cx} y1={py(lo)} y2={py(hi)} />
                      <line x1={cx - 6} x2={cx + 6} y1={py(lo)} y2={py(lo)} />
                      <line x1={cx - 6} x2={cx + 6} y1={py(hi)} y2={py(hi)} />
                    </g>
                  );
                })}
              {vals.map((v, k) =>
                v == null ? null : <circle key={k} cx={px(LOG_M_BINS[k])} cy={py(v)} r={5.7} fill={color} />
              )}
            </g>
          );
        })}
      </g>
      <text x={20} y={37} fontSize={23}>
        <tspan fontStyle="italic">z</tspan>
        <tspan dx={8}>=</tspan>
        <tspan dx={8}>{REDSHIFTS[idx]}</tspan>
      </text>
    </g>
  );
}

function Legend() {
  return (
    <g>
      {THRESHOLDS.map((t, i) => {
        const ly = 45.6 + i * 31.3;
        return (
          <g key={t}>
            <line x1={29} x2={68} y1={ly} y2={ly} stroke={COLORS[i]} strokeWidth={3} />
            <text x={81} y={ly + 6} fontSize={20}>
              log<tspan fontSize={13.5} dy={4}>10</tspan>
              <tspan fontSize={24} dy={-4} dx={1}>(</tspan>
              <tspan fontStyle="italic">L</tspan>
              <tspan fontSize={13.5} dy={4}>Hα+[NII]</tspan>
              <tspan dy={-4}>/</tspan>
              <tspan fontStyle="italic">h</tspan>
              <tspan fontSize={13.5} dy={-8}>−2</tspan>
              <tspan dy={8}> erg s</tspan>
              <tspan fontSize={13.5} dy={-8}>−1</tspan>
              <tspan fontSize={24} dy={8}>)</tspan>
              <tspan fontFamily="DejaVu Sans" fontSize={17}> ⩾</tspan>
              <tspan>{t}</tspan>
            </text>
          </g>
        );
      })}
    </g>
  );
}

export default function App() {
  return (
    <svg
      width={WIDTH}
      height={HEIGHT}
      viewBox={`0 0 ${WIDTH} ${HEIGHT}`}
      style={{ position: "absolute", left: 0, top: 0, background: "#fff", fontFamily: FONT }}
      fontFamily={FONT}
    >
      <rect width={WIDTH} height={HEIGHT} fill="#fff" />
      {d3.range(12).map((idx) => {
        const col = idx % 3;
        const row = Math.floor(idx / 3);
        return (
          <g key={idx} transform={`translate(${LEFT + col * PW},${TOP + row * PH})`}>
            {idx < 11 ? <DataPanel idx={idx} /> : <Legend />}
            <Frame idx={idx} />
          </g>
        );
      })}
      {d3.range(4).map((row) => (
        <text
          key={row}
          transform={`translate(30,${TOP + row * PH + PH / 2}) rotate(-90)`}
          textAnchor="middle"
          fontSize={30}
        >
          ⟨<tspan fontStyle="italic">N</tspan>|<tspan fontStyle="italic">M</tspan>
          <tspan fontSize={20} dy={6}>200</tspan>
          <tspan dy={-6}>⟩</tspan>
        </text>
      ))}
      {d3.range(3).map((col) => (
        <text key={col} x={LEFT + col * PW + PW / 2} y={TOP + 4 * PH + 67} textAnchor="middle" fontSize={31}>
          <tspan fontStyle="italic">M</tspan>
          <tspan fontSize={21} dy={7}>200</tspan>
          <tspan dy={-7}> (</tspan>
          <tspan fontStyle="italic">h</tspan>
          <tspan fontSize={21} dy={-12}>−1</tspan>
          <tspan dy={12}>M</tspan>
          <tspan fontSize={21} dy={7}>⊙</tspan>
          <tspan dy={-7}>)</tspan>
        </text>
      ))}
    </svg>
  );
}
